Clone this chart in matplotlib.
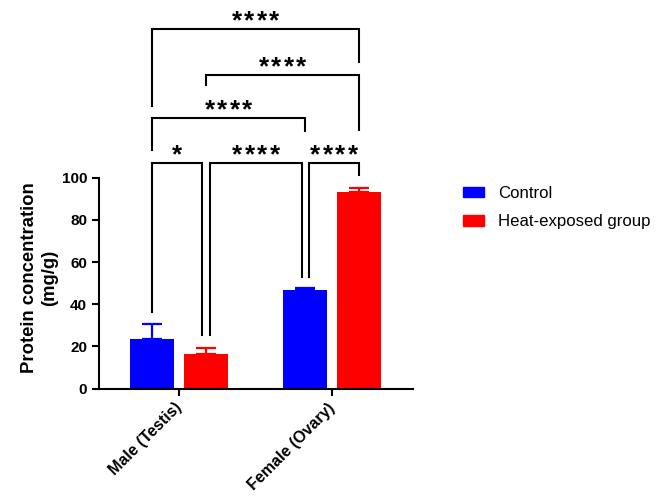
import matplotlib
matplotlib.use("Agg")
import matplotlib.pyplot as plt
from matplotlib.patches import Patch

plt.rcParams['font.family'] = ['Liberation Sans', 'DejaVu Sans']

groups = ['Male (Testis)', 'Female (Ovary)']
series = ['Control', 'Heat-exposed group']
control = [23.5, 46.8]
control_err = [7.3, 0.8]
heat = [16.4, 93.0]
heat_err = [2.7, 2.2]
colors = ['#0000ff', '#ff0000']

# comparisons: (bar a, bar b, label, bracket height, leg bottom a, leg bottom b, nudge a, nudge b)
# bars are numbered 0..3 = male ctrl, male heat, female ctrl, female heat
comparisons = [
    (0, 3, '****', 170.3, 134.0, 155.0, 0.0, 0.0),
    (1, 3, '****', 148.6, 143.9, 122.6, 0.0, 0.0),
    (0, 2, '****', 128.3, 113.1, 122.3, 0.0, 0.0),
    (0, 1, '*', 106.8, 36.5, 25.5, 0.0, -0.025),
    (1, 2, '****', 106.8, 25.5, 52.9, 0.025, -0.022),
    (2, 3, '****', 106.8, 52.9, 101.3, 0.025, 0.0),
]

offset = 0.177
width = 0.29
xs = list(range(len(groups)))

fig = plt.figure(figsize=(6.61, 5.0), dpi=100)
ax = fig.add_axes([99 / 661, 1 - 388.7 / 500, (413 - 99) / 661, 388.7 / 500])

bar_x = []
for i, (vals, errs) in enumerate([(control, control_err), (heat, heat_err)]):
    pos = [x + (2 * i - 1) * offset for x in xs]
    ax.bar(pos, vals, width=width, color=colors[i], zorder=2)
    ax.errorbar(pos, vals, yerr=[[0] * len(errs), errs], fmt='none',
                ecolor=colors[i], elinewidth=1.6, capsize=7.5, capthick=1.6, zorder=1)
    bar_x.append(pos)
# order: male ctrl, male heat, female ctrl, female heat
centers = [bar_x[0][0], bar_x[1][0], bar_x[0][1], bar_x[1][1]]


def stars(x, y, label):
    # spread the asterisks out a bit, like Prism does
    n = len(label)
    for k, ch in enumerate(label):
        ax.annotate(ch, xy=(x, y), xytext=((k - (n - 1) / 2) * 9.0, -2.8),
                    textcoords='offset points', ha='center', va='bottom',
                    fontsize=18.5, fontweight='bold', annotation_clip=False)


for a, b, label, h, la, lb, na, nb in comparisons:
    x1 = centers[a] + na
    x2 = centers[b] + nb
    ax.plot([x1, x1, x2, x2], [la, h, h, lb], color='black', lw=1.5,
            solid_joinstyle='miter', clip_on=False)
    stars((x1 + x2) / 2, h, label)

ax.set_xlim(-0.523, 1.529)
ax.set_ylim(0, 184.2)
ax.set_yticks([0, 20, 40, 60, 80, 100])
ax.spines['left'].set_bounds(0, 100)
ax.spines['top'].set_visible(False)
ax.spines['right'].set_visible(False)
for s in ['left', 'bottom']:
    ax.spines[s].set_linewidth(1.5)
ax.tick_params(width=1.5, length=5, labelsize=11)
ax.tick_params(axis='x', pad=7)
for t in ax.get_yticklabels():
    t.set_fontweight('bold')
ax.set_xticks(xs)
ax.set_xticklabels(groups, rotation=45, ha='right', va='center',
                   rotation_mode='anchor', fontsize=11.5, fontweight='bold')
ax.set_ylabel('Protein concentration\n(mg/g)', fontsize=13.3, fontweight='bold')
ax.yaxis.set_label_coords(-0.131, 0.285)

handles = [Patch(color=c) for c in colors]
fig.legend(handles, series, loc='upper left', bbox_to_anchor=(463 / 661, 1 - 186 / 500),
           frameon=False, fontsize=12.1, handlelength=1.25, handleheight=0.55,
           handletextpad=0.85, labelspacing=0.8, borderpad=0, borderaxespad=0)

fig.savefig('out.png', dpi=100)
